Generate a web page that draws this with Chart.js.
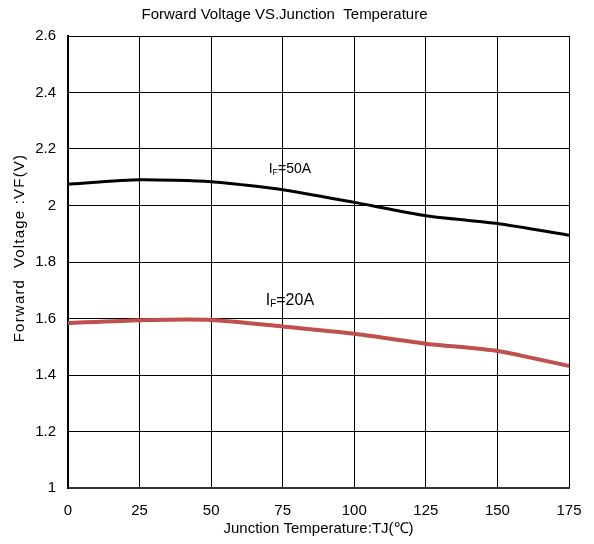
<!DOCTYPE html>
<html>
<head>
<meta charset="utf-8">
<script src="https://cdn.jsdelivr.net/npm/chart.js@4.4.1/dist/chart.umd.min.js"></script>
<style>
  html, body { margin: 0; padding: 0; background: #fff; }
  #wrap { width: 594px; height: 544px; }
</style>
</head>
<body>
<div id="wrap"><canvas id="chart-vf"></canvas></div>
<script>
{ // scoping

  // data
  const temps = [0, 25, 50, 75, 100, 125, 150, 175];
  const vf50A = [2.076, 2.091, 2.084, 2.056, 2.011, 1.964, 1.936, 1.895];
  const vf20A = [1.584, 1.594, 1.595, 1.572, 1.546, 1.511, 1.485, 1.432];
  const yTicks = [1, 1.2, 1.4, 1.6, 1.8, 2, 2.2, 2.4, 2.6];
  const xTicks = [0, 25, 50, 75, 100, 125, 150, 175];

  // curve labels: [main, subscript, tail, x, y, font size]
  const curveLabels = [
    ['I', 'F', '=50A', 77.5, 2.13, 14],
    ['I', 'F', '=20A', 77.5, 1.664, 16]
  ];

  const yTitle = 'Forward  Voltage :VF(V)';
  const fontFam = '"Liberation Sans Narrow", "Liberation Sans", Arial, sans-serif';

  // draws the IF=..A labels at data positions, plus the y axis title
  const labelPlugin = {
    id: 'curveLabels',
    afterDatasetsDraw(chart) {
      const ctx = chart.ctx;
      const xs = chart.scales.x, ys = chart.scales.y;
      ctx.save();
      ctx.fillStyle = '#000';
      ctx.textBaseline = 'middle';
      curveLabels.forEach(function(l) {
        const size = l[5];
        const big = size + 'px ' + fontFam;
        const small = Math.round(size * 0.65) + 'px ' + fontFam;
        ctx.font = big;
        const w1 = ctx.measureText(l[0]).width;
        const w3 = ctx.measureText(l[2]).width;
        ctx.font = small;
        const w2 = ctx.measureText(l[1]).width;
        let px = xs.getPixelForValue(l[3]) - (w1 + w2 + w3) / 2;
        const py = ys.getPixelForValue(l[4]);
        ctx.textAlign = 'left';
        ctx.font = big;
        ctx.fillText(l[0], px, py);
        px += w1;
        ctx.font = small;
        ctx.fillText(l[1], px, py + size * 0.25);
        px += w2;
        ctx.font = big;
        ctx.fillText(l[2], px, py);
      });

      // y title, a bit spaced out like the original
      ctx.translate(20, (chart.chartArea.top + chart.chartArea.bottom) / 2 - 14);
      ctx.rotate(-Math.PI / 2);
      ctx.font = '15px ' + fontFam;
      ctx.letterSpacing = '1.2px';
      ctx.textAlign = 'center';
      ctx.fillText(yTitle, 0, 0);
      ctx.restore();
    }
  };

  const ctx = document.getElementById('chart-vf').getContext('2d');

  const myChart = new Chart(ctx, {
    type: 'line',
    data: {
      datasets: [{
        label: 'IF=50A',
        data: temps.map((t, i) => ({ x: t, y: vf50A[i] })),
        borderColor: '#000000',
        borderWidth: 3,
        pointRadius: 0,
        tension: 0.2,
        fill: false
      }, {
        label: 'IF=20A',
        data: temps.map((t, i) => ({ x: t, y: vf20A[i] })),
        borderColor: '#c0504d',
        borderWidth: 4,
        pointRadius: 0,
        tension: 0.2,
        fill: false
      }]
    },
    options: {
      responsive: true,
      maintainAspectRatio: false,
      animation: false,
      layout: { padding: { left: 0, right: 25, top: 4, bottom: 0 } },
      plugins: {
        legend: { display: false },
        tooltip: { enabled: false },
        title: {
          display: true,
          text: 'Forward Voltage VS.Junction  Temperature',
          color: '#000',
          font: { family: fontFam, size: 15, weight: 'normal' },
          padding: { top: 2, bottom: 12 }
        }
      },
      scales: {
        x: {
          type: 'linear',
          min: 0,
          max: 175,
          afterBuildTicks: axis => { axis.ticks = xTicks.map(v => ({ value: v })); },
          afterFit: axis => { axis.height = 56; axis.paddingLeft = 0; axis.paddingRight = 0; },
          grid: { color: '#000', lineWidth: 1, drawTicks: false },
          border: { color: '#333', width: 2 },
          ticks: { color: '#000', padding: 14, font: { family: fontFam, size: 15 } },
          title: {
            display: true,
            text: 'Junction Temperature:TJ(℃)',
            color: '#000',
            font: { family: fontFam, size: 15 },
            padding: { top: 0, bottom: 6 }
          }
        },
        y: {
          type: 'linear',
          min: 1,
          max: 2.6,
          afterBuildTicks: axis => { axis.ticks = yTicks.map(v => ({ value: v })); },
          afterFit: axis => { axis.width = 68; },
          grid: { color: '#000', lineWidth: 1, drawTicks: false },
          border: { color: '#000', width: 2 },
          ticks: {
            color: '#000',
            padding: 12,
            font: { family: fontFam, size: 15 },
            callback: v => String(+v.toFixed(1))
          },
          title: { display: false }
        }
      }
    },
    plugins: [labelPlugin]
  });

} // scoping
</script>
</body>
</html>
